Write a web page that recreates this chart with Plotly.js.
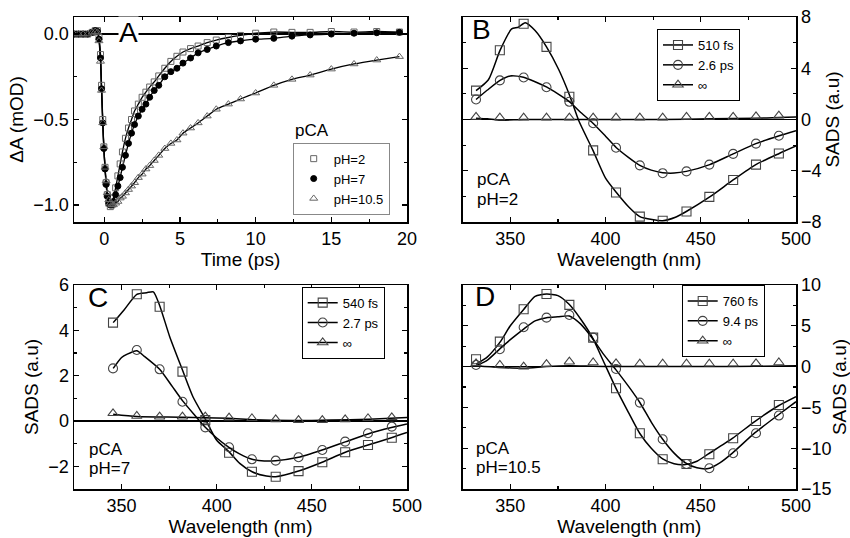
<!DOCTYPE html>
<html><head><meta charset="utf-8">
<script src="https://cdn.plot.ly/plotly-3.0.1.min.js"></script>
<style>html,body{margin:0;padding:0;background:#fff}#chart{width:850px;height:538px}</style>
</head><body><div id="chart"></div>
<script>
// ---------- Panel A: kinetics ----------
const tA = [-2,-1.7,-1.4,-1.1,-0.8,-0.6,-0.45,-0.35,-0.25,-0.18,-0.1,-0.03,0.05,0.12,0.2,0.3,0.4,0.5,0.6,0.75,0.9,1.05,1.2,1.4,1.6,1.8,2.0,2.25,2.5,2.75,3.0,3.3,3.6,4.0,4.4,4.8,5.2,5.7,6.2,6.8,7.4,8.2,9.0,10.0,11.2,12.4,13.6,15.0,16.5,18.0,19.5];
const A_pH2 = [0,0,0,0,0.01,0.02,0.02,-0.02,-0.12,-0.30,-0.50,-0.66,-0.78,-0.87,-0.94,-0.99,-1.01,-1.0,-0.96,-0.90,-0.83,-0.76,-0.69,-0.61,-0.55,-0.50,-0.45,-0.41,-0.37,-0.34,-0.31,-0.28,-0.245,-0.20,-0.16,-0.13,-0.105,-0.085,-0.07,-0.05,-0.035,-0.02,-0.008,0.005,0.012,0.01,0.01,0.015,0.012,0.015,0.012];
const A_pH7 = [0,0,0,0,0.01,0.02,0.015,-0.03,-0.14,-0.32,-0.52,-0.67,-0.79,-0.88,-0.95,-0.99,-1.0,-1.0,-0.98,-0.94,-0.89,-0.84,-0.78,-0.71,-0.64,-0.58,-0.53,-0.48,-0.44,-0.41,-0.37,-0.33,-0.30,-0.25,-0.22,-0.20,-0.17,-0.14,-0.11,-0.09,-0.07,-0.05,-0.04,-0.03,-0.025,-0.012,-0.005,0.0,0.005,0.008,0.01];
const A_pH105 = [0,0,0,0,0.01,0.015,0.01,-0.04,-0.16,-0.33,-0.52,-0.66,-0.78,-0.86,-0.93,-0.97,-0.99,-1.0,-1.0,-0.99,-0.98,-0.96,-0.95,-0.93,-0.91,-0.89,-0.87,-0.84,-0.82,-0.79,-0.77,-0.74,-0.71,-0.67,-0.64,-0.62,-0.58,-0.55,-0.52,-0.48,-0.44,-0.41,-0.38,-0.345,-0.30,-0.265,-0.24,-0.205,-0.175,-0.152,-0.132];
const A_names = ['pH=2','pH=7','pH=10.5'];

// ---------- Panels B & D wavelengths (markers) ----------
const wlBD = [332,344.5,357,369,381,393.5,405.5,418,430,442.5,454.5,467,479,491];
const wlC  = [345.5,358,370,382,394,406.5,418.5,431,443,455.5,467.5,479.5,492];

// Panel B (pH=2)
const B_names = ['510 fs','2.6 ps','\u221E'];
const B_510 = [2.25,5.4,7.47,5.67,1.77,-2.41,-5.7,-7.58,-7.9,-7.18,-6.04,-4.72,-3.52,-2.65];
const B_26  = [1.56,3.05,3.28,2.52,1.38,-0.29,-2.2,-3.58,-4.19,-4.05,-3.52,-2.68,-1.88,-1.27];
const B_inf = [0.2,0.15,0.15,0.15,0.15,0.15,0.15,0.15,0.15,0.2,0.2,0.2,0.25,0.3];
const B_510_fx = [332,338.5,344.6,350.7,354.2,357.8,363,369,375.4,381.1,385.9,393.4,400,405.7,412.2,418,424.4,430,436.7,442.4,454.7,467,478.9,491.2,500];
const B_510_fy = [2.25,3.1,5.4,7.07,7.2,7.55,6.94,5.67,3.9,1.9,-0.08,-2.41,-4.58,-5.7,-6.83,-7.58,-7.81,-7.9,-7.63,-7.18,-6.04,-4.72,-3.52,-2.65,-2.07];
const B_26_fx = [332,338,344.6,350,356.9,363,369.2,375,381.1,387,393.4,400,405.7,412,418,424,430,436,442.4,454.7,467,478.9,491.2,500];
const B_26_fy = [1.56,2.3,3.05,3.4,3.3,2.95,2.52,2.0,1.38,0.55,-0.29,-1.3,-2.2,-2.95,-3.58,-3.95,-4.15,-4.18,-4.05,-3.52,-2.68,-1.88,-1.27,-0.87];
const B_inf_fx = [332,338,344,357,381,406,430,455,479,491,500];
const B_inf_fy = [0.1,0.05,-0.05,0,0,0,0,0.05,0.1,0.15,0.2];

// Panel C (pH=7)
const C_names = ['540 fs','2.7 ps','\u221E'];
const C_540 = [4.34,5.59,5.04,2.18,0.04,-1.40,-2.24,-2.46,-2.21,-1.82,-1.38,-1.06,-0.74];
const C_27  = [2.32,3.13,2.28,0.85,-0.28,-1.16,-1.69,-1.75,-1.60,-1.28,-0.91,-0.54,-0.25];
const C_inf = [0.34,0.22,0.19,0.19,0.19,0.15,0.12,0.07,0.04,0.04,0.07,0.12,0.16];
const C_540_fx = [345.6,351.3,358,363.2,366.7,370,375.3,382,387.5,394.3,399.9,406.4,412.1,418.6,426.1,431,443,455.4,467.6,479.5,491.8,500];
const C_540_fy = [4.34,4.9,5.59,5.66,5.7,5.1,3.72,2.25,1.07,0.04,-0.84,-1.35,-1.87,-2.24,-2.43,-2.46,-2.21,-1.82,-1.38,-1.06,-0.74,-0.51];
const C_27_fx = [345.6,350,353,358,362,370,376,382,388,394,400,406.4,412,418.6,425,431,443,455.4,467.6,479.5,491.8,500];
const C_27_fy = [2.32,2.8,2.95,3.1,2.85,2.28,1.6,0.9,0.3,-0.28,-0.75,-1.16,-1.45,-1.69,-1.76,-1.75,-1.6,-1.28,-0.92,-0.57,-0.29,-0.13];
const C_inf_fx = [345.6,358,382,406,420,440,460,480,500];
const C_inf_fy = [0.3,0.2,0.17,0.12,0.05,0.02,0.04,0.08,0.15];

// Panel D (pH=10.5)
const D_names = ['760 fs','9.4 ps','\u221E'];
const D_760 = [0.9,3.06,7.03,8.9,7.56,3.55,-2.66,-8.17,-11.36,-11.93,-10.74,-8.78,-6.66,-4.70];
const D_94  = [0.2,2.12,4.82,6.0,6.33,3.55,-0.29,-4.41,-8.9,-11.93,-12.46,-10.62,-8.17,-6.0];
const D_inf = [0.4,0.2,0.0,0.3,0.6,0.5,0.4,0.35,0.35,0.35,0.35,0.35,0.4,0.5];
const D_760_fx = [332,338,344.6,350,357,363,369,375,381,387,393,399,405.5,412,418,424,430,436,442,448,454,466.6,478.5,490.8,500];
const D_760_fy = [0.3,1.2,3.0,5.0,7.0,8.6,8.9,8.7,7.6,5.8,3.6,0.6,-2.66,-5.6,-8.2,-10.0,-11.3,-11.9,-12.0,-11.6,-10.7,-8.8,-6.7,-4.8,-3.68];
const D_94_fx = [332,338,344.6,350,357,363,369,375,381,387,393,399,405.5,412,418,424,430,436,442,448,454,460,466.6,478.5,490.8,500];
const D_94_fy = [0.1,0.8,2.2,3.3,4.6,5.6,6.0,6.1,6.2,5.2,3.5,1.5,-0.4,-2.4,-4.4,-6.8,-8.9,-10.6,-11.8,-12.4,-12.5,-11.8,-10.6,-8.1,-5.9,-4.3];
const D_inf_fx = [332,344,357,369,381,393,406,430,455,479,500];
const D_inf_fy = [0.1,-0.1,-0.2,0,0.1,0.05,0,0,0,0.05,0.1];

// ---------- build traces ----------
const FONT = 'Arial, "Liberation Sans", Helvetica, sans-serif';
const traces = [];
const mcol = '#444';

// Panel A
const aSym = ['square-open','circle','triangle-up-open'];
const aCol = ['#666','#000','#666'];
const aSize = [6,6,7];
[A_pH2, A_pH7, A_pH105].forEach((ys,i)=>{
  traces.push({x:tA, y:ys, xaxis:'x', yaxis:'y', mode:'lines', line:{color:'#000', width:1.3, shape:'spline', smoothing:0.6}, showlegend:false, hoverinfo:'skip'});
});
[A_pH2, A_pH7, A_pH105].forEach((ys,i)=>{
  traces.push({x:tA, y:ys, xaxis:'x', yaxis:'y', mode:'markers', name:A_names[i], legend:'legend',
    marker:{symbol:aSym[i], color:aCol[i], size:aSize[i], line:{width:1, color:aCol[i]}}});
});

const sSym = ['square-open','circle-open','triangle-up-open'];
function spectra(xa, ya, leg, wl, mk, fits, names){
  for(let i=0;i<3;i++){
    traces.push({x:fits[i][0], y:fits[i][1], xaxis:xa, yaxis:ya, mode:'lines', line:{color:'#000', width:1.5, shape:'spline', smoothing:0.6}, showlegend:false, hoverinfo:'skip'});
    traces.push({x:wl, y:mk[i], xaxis:xa, yaxis:ya, mode:'markers', showlegend:false,
      marker:{symbol:sSym[i], color:mcol, size:9, line:{width:1.1, color:mcol}}});
  }
  for(let i=0;i<3;i++){
    traces.push({x:[null], y:[null], xaxis:xa, yaxis:ya, mode:'lines+markers', name:names[i], legend:leg,
      line:{color:'#000', width:1.5}, marker:{symbol:sSym[i], color:mcol, size:9, line:{width:1.1, color:mcol}}});
  }
}
spectra('x2','y2','legend2', wlBD, [B_510,B_26,B_inf], [[B_510_fx,B_510_fy],[B_26_fx,B_26_fy],[B_inf_fx,B_inf_fy]], B_names);
spectra('x3','y3','legend3', wlC, [C_540,C_27,C_inf], [[C_540_fx,C_540_fy],[C_27_fx,C_27_fy],[C_inf_fx,C_inf_fy]], C_names);
spectra('x4','y4','legend4', wlBD, [D_760,D_94,D_inf], [[D_760_fx,D_760_fy],[D_94_fx,D_94_fy],[D_inf_fx,D_inf_fy]], D_names);

// ---------- layout ----------
const W=850, H=538;
const px = v=>v/W, py = v=>1-v/H;
const tickF = {family:FONT, size:18, color:'#000'};
const titleF = {family:FONT, size:19, color:'#000'};
function ax(opts){
  return Object.assign({showline:true, linecolor:'#000', linewidth:1.5, mirror:'allticks', ticks:'inside', ticklen:5, tickwidth:1.2, tickcolor:'#000',
    showgrid:false, zeroline:false, tickfont:tickF, fixedrange:true}, opts);
}
const domAx = [px(74), px(407)], domBx = [px(462.7), px(796)];
const domTop = [py(222), py(17)], domBot = [py(489), py(285)];
const LF = {family:FONT,size:13,color:'#000'};
function ann(text, x, y, size, xanchor, extra){
  return Object.assign({text, xref:'paper', yref:'paper', x:px(x), y:py(y), xanchor:xanchor||'center', yanchor:'middle', showarrow:false,
    font:{family:FONT,size:size,color:'#000'}}, extra||{});
}

const layout = {
  width:W, height:H, margin:{l:0,r:0,t:0,b:0}, paper_bgcolor:'#fff', plot_bgcolor:'#fff',
  font:{family:FONT, color:'#000'},
  xaxis: ax({domain:domAx, anchor:'y', range:[-2,20], tick0:0, dtick:5, minor:{dtick:2.5, ticks:'inside', ticklen:3, tickcolor:'#000'},
    title:{text:'Time (ps)', font:titleF, standoff:0}}),
  yaxis: ax({domain:domTop, anchor:'x', range:[-1.1,0.1], tick0:0, dtick:0.5, tickformat:'.1f', minor:{dtick:0.25, ticks:'inside', ticklen:3, tickcolor:'#000'},
    zeroline:true, zerolinecolor:'#000', zerolinewidth:1.5, title:{text:'\u0394A (mOD)', font:titleF, standoff:4}}),
  xaxis2: ax({domain:domBx, anchor:'y2', range:[325,500], tick0:350, dtick:50, minor:{dtick:25, ticks:'inside', ticklen:3, tickcolor:'#000'},
    title:{text:'Wavelength (nm)', font:titleF, standoff:0}}),
  yaxis2: ax({domain:domTop, anchor:'x2', side:'right', range:[-8,8], tick0:0, dtick:4, minor:{dtick:2, ticks:'inside', ticklen:3, tickcolor:'#000'},
    zeroline:true, zerolinecolor:'#000', zerolinewidth:1.5, title:{text:'SADS (a.u)', font:titleF, standoff:4}}),
  xaxis3: ax({domain:domAx, anchor:'y3', range:[325,500], tick0:350, dtick:50, minor:{dtick:25, ticks:'inside', ticklen:3, tickcolor:'#000'},
    title:{text:'Wavelength (nm)', font:titleF, standoff:0}}),
  yaxis3: ax({domain:domBot, anchor:'x3', range:[-3,6], tick0:0, dtick:2, minor:{dtick:1, ticks:'inside', ticklen:3, tickcolor:'#000'},
    zeroline:true, zerolinecolor:'#000', zerolinewidth:1.5, title:{text:'SADS (a.u)', font:titleF, standoff:4}}),
  xaxis4: ax({domain:domBx, anchor:'y4', range:[325,500], tick0:350, dtick:50, minor:{dtick:25, ticks:'inside', ticklen:3, tickcolor:'#000'},
    title:{text:'Wavelength (nm)', font:titleF, standoff:0}}),
  yaxis4: ax({domain:domBot, anchor:'x4', side:'right', range:[-15,10], tick0:0, dtick:5, minor:{dtick:2.5, ticks:'inside', ticklen:3, tickcolor:'#000'},
    zeroline:true, zerolinecolor:'#000', zerolinewidth:1.5, title:{text:'SADS (a.u)', font:titleF, standoff:4}}),
  legend:  {x:px(292.7), y:py(142.7), xanchor:'left', yanchor:'top', bgcolor:'#fff', bordercolor:'#888', borderwidth:1, font:LF, tracegroupgap:0, itemwidth:30},
  legend2: {x:px(657), y:py(29), xanchor:'left', yanchor:'top', bgcolor:'#fff', bordercolor:'#000', borderwidth:1, font:LF, tracegroupgap:0, itemwidth:30},
  legend3: {x:px(301.7), y:py(286.7), xanchor:'left', yanchor:'top', bgcolor:'#fff', bordercolor:'#000', borderwidth:1, font:LF, tracegroupgap:0, itemwidth:30},
  legend4: {x:px(681.7), y:py(285), xanchor:'left', yanchor:'top', bgcolor:'#fff', bordercolor:'#000', borderwidth:1, font:LF, tracegroupgap:0, itemwidth:30},
  annotations: [
    ann('A', 128.5, 32.5, 28, 'center', {bgcolor:'#fff', borderpad:0}),
    ann('B', 481, 30, 28),
    ann('C', 97.5, 297.5, 28),
    ann('D', 485, 296, 28),
    ann('pCA', 293, 131, 17, 'left'),
    ann('pCA', 475, 179, 17, 'left'),
    ann('pH=2', 475, 199, 17, 'left'),
    ann('pCA', 87, 449, 17, 'left'),
    ann('pH=7', 87, 468, 17, 'left'),
    ann('pCA', 474, 448, 17, 'left'),
    ann('pH=10.5', 474, 467, 17, 'left')
  ]
};
Plotly.newPlot('chart', traces, layout, {staticPlot:true, displayModeBar:false});
</script>
</body></html>
